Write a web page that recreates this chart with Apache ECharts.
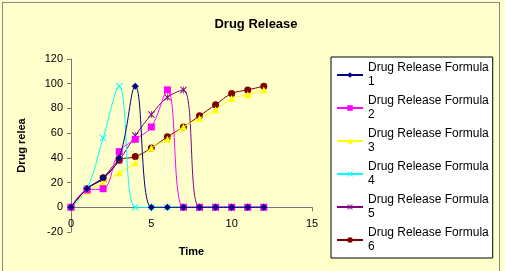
<!DOCTYPE html>
<html>
<head>
<meta charset="UTF-8">
<title>Drug Release</title>
<script src="https://cdn.jsdelivr.net/npm/echarts@6/dist/echarts.min.js"></script>
<style>
  body{margin:0;padding:0;background:#fff;}
  #chart{position:absolute;left:0;top:0;width:505px;height:271px;background:#ffffcc;}
  #frame{position:absolute;left:2px;top:2px;width:496px;height:270px;border:1px solid #888;pointer-events:none;}
</style>
</head>
<body>
<div id="chart"></div>
<div id="frame"></div>
<script type="text/javascript">
var times = [0,1,2,3,4,5,6,7,8,9,10,11,12];
var names = ['Drug Release Formula 1','Drug Release Formula 2','Drug Release Formula 3',
             'Drug Release Formula 4','Drug Release Formula 5','Drug Release Formula 6'];
var f1 = [0,15,24,40,98,0,0,0,0,0,0,0,0];
var f2 = [0,14,15,45,55,65,95,0,0,0,0,0,0];
var f3 = [0,13,20,28,36,48,55,65,72,79,88,91,95];
var f4 = [0,15,56,98,0,0,0,0,0,0,0,0,0];
var f5 = [0,15,23,38,58,75,89,95,0,0,0,0,0];
var f6 = [0,15,24,38,41,48,57,65,74,83,92,95,98];

var colors = ['#000080','#ff00ff','#ffff00','#00ffff','#800080','#800000'];
var crossPath = 'path://M0,1L1,0L5,4L9,0L10,1L6,5L10,9L9,10L5,6L1,10L0,9L4,5Z';
var starPath = 'path://M0,1L1,0L4.5,3.5L4.5,0L5.5,0L5.5,3.5L9,0L10,1L6,5L10,9L9,10L5.5,6.5L5.5,10L4.5,10L4.5,6.5L1,10L0,9L4,5Z';
var symbols = ['diamond','rect','triangle',crossPath,starPath,'circle'];
var allData = [f1,f2,f3,f4,f5,f6];

function pairs(arr){
  return arr.map(function(v,i){ return [times[i], v]; });
}

var series = allData.map(function(d,i){
  return {
    name: names[i],
    type: 'line',
    smooth: 0.4,
    data: pairs(d),
    symbol: symbols[i],
    symbolSize: 7,
    showAllSymbol: true,
    lineStyle: {color: colors[i], width: 1},
    itemStyle: {color: colors[i]},
    z: 10 - i
  };
});

var chart = echarts.init(document.getElementById('chart'));
chart.setOption({
  animation: false,
  color: colors,
  title: {
    text: 'Drug Release',
    left: 251, top: 13, textAlign: 'center',
    textStyle: {fontFamily: 'Liberation Sans, Arial', fontSize: 13, fontWeight: 'bold', color: '#000'}
  },
  legend: {
    orient: 'vertical',
    left: 331, top: 57,
    width: 164,
    padding: [4, 4, 4, 5],
    itemGap: 5,
    itemWidth: 26, itemHeight: 7,
    backgroundColor: '#fff',
    borderColor: '#000', borderWidth: 1,
    borderRadius: 0,
    textStyle: {fontFamily: 'Liberation Sans, Arial', fontSize: 12, color: '#000', lineHeight: 14},
    formatter: function(n){ return n.replace(/ (\d+)$/, '\n$1'); },
    data: names
  },
  grid: {left: 71, top: 59, width: 241, height: 173, outerBoundsMode: 'none', containLabel: false},
  xAxis: {
    type: 'value', min: 0, max: 15, interval: 5,
    name: 'Time', nameLocation: 'middle', nameGap: 14,
    nameTextStyle: {fontFamily: 'Liberation Sans, Arial', fontSize: 11, fontWeight: 'bold', color: '#000'},
    axisLine: {onZero: true, lineStyle: {color: '#777'}},
    axisTick: {show: true, length: 4, lineStyle: {color: '#777'}},
    axisLabel: {margin: -14, fontFamily: 'Liberation Sans, Arial', fontSize: 11, color: '#000'},
    splitLine: {show: false}
  },
  yAxis: {
    type: 'value', min: -20, max: 120, interval: 20,
    name: 'Drug relea', nameLocation: 'middle', nameGap: 44, nameRotate: 90,
    nameTextStyle: {fontFamily: 'Liberation Sans, Arial', fontSize: 11, fontWeight: 'bold', color: '#000'},
    axisLine: {show: true, lineStyle: {color: '#777'}},
    axisTick: {show: true, length: 4, lineStyle: {color: '#777'}},
    axisLabel: {margin: 8, fontFamily: 'Liberation Sans, Arial', fontSize: 11, color: '#000'},
    splitLine: {show: false}
  },
  series: series
});
</script>
</body>
</html>
